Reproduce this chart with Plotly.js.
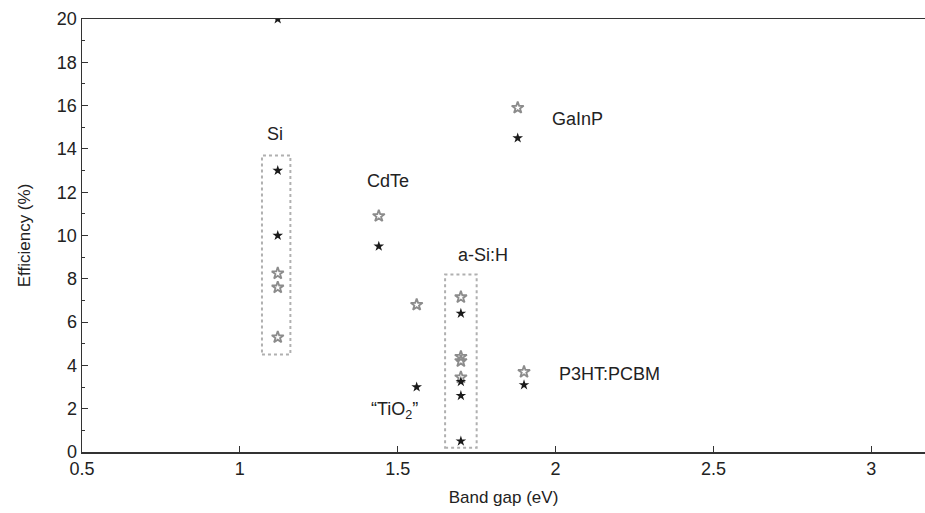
<!DOCTYPE html>
<html>
<head>
<meta charset="utf-8">
<script src="https://cdn.plot.ly/plotly-3.0.1.min.js"></script>
<style>html,body{margin:0;padding:0;background:#fff;}#chart{width:925px;height:513px;}</style>
</head>
<body>
<div id="chart"></div>
<script>
// Filled (black) stars
var filledGap = [1.12, 1.12, 1.12, 1.44, 1.56, 1.70, 1.70, 1.70, 1.70, 1.88, 1.90];
var filledEff = [20.0, 13.0, 10.0, 9.5, 3.0, 6.4, 3.25, 2.6, 0.5, 14.5, 3.1];
// Open (grey) stars
var openGap = [1.12, 1.12, 1.12, 1.44, 1.56, 1.70, 1.70, 1.70, 1.70, 1.88, 1.90];
var openEff = [8.25, 7.6, 5.3, 10.9, 6.8, 7.15, 4.4, 4.2, 3.45, 15.9, 3.7];
// Material labels
var labelText = ["Si", "CdTe", "GaInP", "a-Si:H", "P3HT:PCBM", "\u201CTiO<sub>2</sub>\u201D"];
var labelGap = [1.11, 1.47, 2.07, 1.77, 2.17, 1.49];
var labelEff = [14.7, 12.5, 15.4, 9.1, 3.6, 1.9];
// Group boxes (Si, a-Si:H)
var boxGap0 = [1.07, 1.65];
var boxGap1 = [1.16, 1.75];
var boxEff0 = [4.5, 0.2];
var boxEff1 = [13.7, 8.2];

var traces = [
  {x: openGap, y: openEff, mode: 'markers', type: 'scatter',
   marker: {symbol: 'star-open', size: 9, color: '#8c8c8c', line: {width: 1.8, color: '#8c8c8c'}},
   showlegend: false, hoverinfo: 'x+y'},
  {x: filledGap, y: filledEff, mode: 'markers', type: 'scatter',
   marker: {symbol: 'star', size: 8, color: '#1a1a1a', line: {width: 0}},
   showlegend: false, hoverinfo: 'x+y'}
];

var annotations = labelText.map(function(t, i){
  return {x: labelGap[i], y: labelEff[i], xref: 'x', yref: 'y', text: t, showarrow: false,
          font: {family: 'Liberation Sans, Arial, sans-serif', size: 18, color: '#222'}};
});

var shapes = boxGap0.map(function(g, i){
  return {type: 'rect', xref: 'x', yref: 'y', x0: g, x1: boxGap1[i], y0: boxEff0[i], y1: boxEff1[i],
          line: {color: '#b0b0b0', width: 2, dash: 'dot'}, fillcolor: 'rgba(0,0,0,0)', layer: 'below'};
});

var font = {family: 'Liberation Sans, Arial, sans-serif', size: 18, color: '#222'};
var tfont = {family: 'Liberation Sans, Arial, sans-serif', size: 17, color: '#222'};
var layout = {
  width: 925, height: 513,
  margin: {l: 82, r: 0, t: 19, b: 61},
  paper_bgcolor: '#fff', plot_bgcolor: '#fff',
  font: font,
  xaxis: {range: [0.5, 3.17], tickvals: [0.5, 1, 1.5, 2, 2.5, 3], ticktext: ['0.5','1','1.5','2','2.5','3'],
          ticks: 'inside', ticklen: 6, tickwidth: 1, tickcolor: '#333',
          showline: true, linecolor: '#333', linewidth: 1.5, mirror: true,
          showgrid: false, zeroline: false, tickfont: font,
          title: {text: 'Band gap (eV)', font: tfont, standoff: 13}},
  yaxis: {range: [0, 20], dtick: 2, ticks: 'inside', ticklen: 6, tickwidth: 1, tickcolor: '#333',
          minor: {dtick: 1, ticks: 'inside', ticklen: 3, tickcolor: '#333', showgrid: false},
          showline: true, linecolor: '#333', linewidth: 1.5, mirror: true,
          showgrid: false, zeroline: false, tickfont: font,
          title: {text: 'Efficiency (%)', font: tfont, standoff: 22}},
  annotations: annotations,
  shapes: shapes
};
Plotly.newPlot('chart', traces, layout, {displayModeBar: false, staticPlot: true});
</script>
</body>
</html>
